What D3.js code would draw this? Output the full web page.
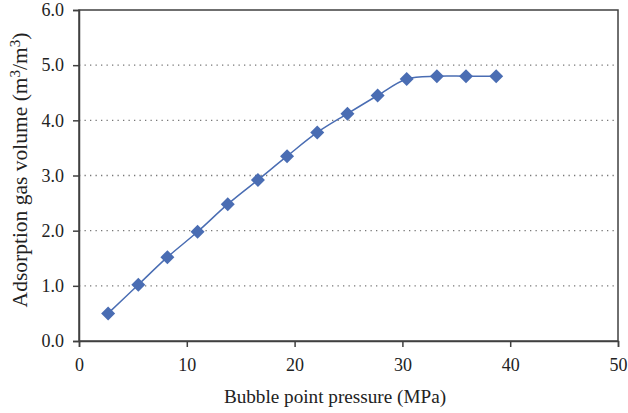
<!DOCTYPE html>
<html><head><meta charset="utf-8">
<script src="https://cdn.jsdelivr.net/npm/d3@7"></script>
<style>body{margin:0;background:#fff}svg{display:block}</style>
</head><body><svg id="c" width="628" height="413"></svg>
<script>
const pressure = [2.7, 5.5, 8.2, 11.0, 13.8, 16.6, 19.3, 22.1, 24.9, 27.7, 30.4, 33.2, 35.9, 38.7];
const gasVolume = [0.50, 1.02, 1.52, 1.98, 2.48, 2.92, 3.35, 3.78, 4.12, 4.45, 4.75, 4.80, 4.80, 4.80];
const xTicks = [0, 10, 20, 30, 40, 50];
const yTicks = [0, 1, 2, 3, 4, 5, 6];
const xTitle = "Bubble point pressure (MPa)";

const svg = d3.select("#c");
const m = {l: 79, r: 618, t: 10, b: 341};
const x = d3.scaleLinear().domain([0, 50]).range([m.l, m.r]);
const y = d3.scaleLinear().domain([0, 6]).range([m.b, m.t]);
const font = "'Liberation Serif', 'Times New Roman', serif";
const axisCol = "#404040";

// gridlines
svg.append("g").selectAll("line").data(yTicks.filter(d => d > 0 && d < 6)).join("line")
  .attr("x1", m.l).attr("x2", m.r).attr("y1", d => y(d)).attr("y2", d => y(d))
  .attr("stroke", "#777").attr("stroke-width", 1.3).attr("stroke-dasharray", "1.3,4.2");

// frame
svg.append("rect").attr("x", m.l).attr("y", m.t).attr("width", m.r - m.l).attr("height", m.b - m.t)
  .attr("fill", "none").attr("stroke", axisCol).attr("stroke-width", 1.5);

const xa = svg.append("g").attr("transform", `translate(0,${m.b})`)
  .call(d3.axisBottom(x).tickValues(xTicks).tickSize(6).tickPadding(11).tickFormat(d3.format("d")));
const ya = svg.append("g").attr("transform", `translate(${m.l},0)`)
  .call(d3.axisLeft(y).tickValues(yTicks).tickSize(6).tickPadding(9).tickFormat(d3.format(".1f")));
[xa, ya].forEach(a => {
  a.select(".domain").attr("stroke", axisCol).attr("stroke-width", 1.5);
  a.selectAll(".tick line").attr("stroke", axisCol).attr("stroke-width", 1.5);
  a.selectAll("text").attr("font-family", font).attr("font-size", 18).attr("fill", "#222");
});

// line
const pts = pressure.map((p, i) => [p, gasVolume[i]]);
svg.append("path").datum(pts)
  .attr("d", d3.line().x(d => x(d[0])).y(d => y(d[1])).curve(d3.curveCatmullRom.alpha(0.5)))
  .attr("fill", "none").attr("stroke", "#4a6db3").attr("stroke-width", 1.5);

// markers
svg.append("g").selectAll("path").data(pts).join("path")
  .attr("transform", d => `translate(${x(d[0])},${y(d[1])})`)
  .attr("d", "M0,-7L7,0L0,7L-7,0Z")
  .attr("fill", "#4a6db3");

// titles
svg.append("text").attr("x", 335).attr("y", 403)
  .attr("text-anchor", "middle").attr("font-family", font).attr("font-size", 19.2).attr("fill", "#222")
  .text(xTitle);
const yt = svg.append("text").attr("transform", `translate(27,170) rotate(-90)`)
  .attr("text-anchor", "middle").attr("font-family", font).attr("font-size", 21.5).attr("fill", "#222");
yt.append("tspan").text("Adsorption gas volume (m");
yt.append("tspan").attr("font-size", 15).attr("dy", -7).text("3");
yt.append("tspan").attr("dy", 7).text("/m");
yt.append("tspan").attr("font-size", 15).attr("dy", -7).text("3");
yt.append("tspan").attr("dy", 7).text(")");
</script></body></html>
